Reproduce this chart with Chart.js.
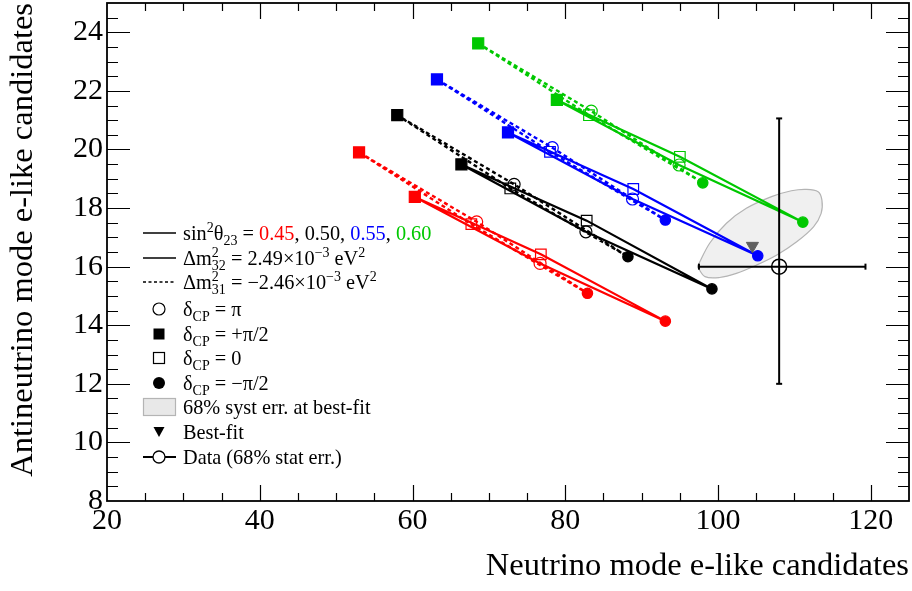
<!DOCTYPE html>
<html>
<head>
<meta charset="utf-8">
<script src="https://cdn.jsdelivr.net/npm/chart.js@4.4.0/dist/chart.umd.min.js"></script>
<style>
html, body { margin: 0; padding: 0; background: #fff; }
#wrap { position: relative; width: 912px; height: 591px; }
#chart { position: absolute; left: 0; top: 0; }
.leg { position: absolute; left: 183px; font-family: 'Liberation Serif', 'Times New Roman', serif; font-size: 20.3px; line-height: 24px; color: #000; white-space: nowrap; }
.sup { font-size: 14px; position: relative; top: -8px; }
.sub { font-size: 14px; position: relative; top: 5px; }
.red { color: #ff0000; } .blue { color: #0000ff; } .green { color: #00c800; }
</style>
</head>
<body>
<div id="wrap">
<canvas id="chart" width="912" height="591"></canvas>
<div class="leg" style="top:221px">sin<span class="sup">2</span>θ<span class="sub">23</span> = <span class="red">0.45</span>, 0.50, <span class="blue">0.55</span>, <span class="green">0.60</span></div>
<div class="leg" style="top:246px">Δm<span class="sup" style="margin-right:-7px">2</span><span class="sub">32</span> = 2.49×10<span class="sup">−3</span> eV<span class="sup">2</span></div>
<div class="leg" style="top:270px">Δm<span class="sup" style="margin-right:-7px">2</span><span class="sub">31</span> = −2.46×10<span class="sup">−3</span> eV<span class="sup">2</span></div>
<div class="leg" style="top:297px">δ<span class="sub">CP</span> = π</div>
<div class="leg" style="top:322px">δ<span class="sub">CP</span> = +π/2</div>
<div class="leg" style="top:346px">δ<span class="sub">CP</span> = 0</div>
<div class="leg" style="top:371px">δ<span class="sub">CP</span> = −π/2</div>
<div class="leg" style="top:395px">68% syst err. at best-fit</div>
<div class="leg" style="top:420px">Best-fit</div>
<div class="leg" style="top:445px">Data (68% stat err.)</div>
</div>
<script>
const FONT = "'Liberation Serif', 'Times New Roman', serif";

// axis ticks
const xTicks = [20, 40, 60, 80, 100, 120];
const yTicks = [8, 10, 12, 14, 16, 18, 20, 22, 24];
const xMinorStep = 5;
const yMinorStep = 0.5;

// sin^2(theta23) curves, points in order dCP = +pi/2, 0, -pi/2, pi
const sin2Labels = ['0.45', '0.50', '0.55', '0.60'];
const curveColors = ['#ff0000', '#000000', '#0000ff', '#00c800'];

// normal ordering (dm2_32 = 2.49e-3), solid
const nhNu = [
  [60.3, 76.8, 93.1, 76.7],
  [66.4, 82.8, 99.2, 82.7],
  [72.5, 88.9, 105.2, 88.8],
  [78.9, 95.0, 111.1, 94.9]
];
const nhAnu = [
  [18.38, 16.42, 14.14, 16.11],
  [19.49, 17.57, 15.24, 17.19],
  [20.58, 18.65, 16.37, 18.31],
  [21.69, 19.75, 17.52, 19.47]
];

// inverted ordering (dm2_31 = -2.46e-3), dashed
const ihNu = [
  [53.0, 67.7, 82.9, 68.4],
  [58.0, 72.8, 88.2, 73.3],
  [63.2, 78.0, 93.1, 78.3],
  [68.6, 83.1, 98.0, 83.4]
];
const ihAnu = [
  [19.90, 17.45, 15.09, 17.53],
  [21.17, 18.67, 16.34, 18.81],
  [22.39, 19.92, 17.59, 20.06],
  [23.62, 21.17, 18.86, 21.31]
];

// data with 68% stat errors
const dataNu = 108.0;
const dataAnu = 16.0;
const dataNuRange = [97.5, 119.3];
const dataAnuRange = [12.0, 21.06];

// best fit
const bestNu = 104.5;
const bestAnu = 16.71;

// 68% syst error contour around best-fit
const systNu = [97.3, 98.9, 101.1, 103.7, 107.0, 109.6, 111.5, 113.1, 113.6, 113.5, 112.5, 110.3, 107.7, 105.0, 102.4, 100.2, 98.3];
const systAnu = [16.00, 16.80, 17.48, 17.99, 18.39, 18.59, 18.64, 18.56, 18.27, 17.82, 17.36, 16.85, 16.40, 16.05, 15.77, 15.63, 15.66];

const clear = 'rgba(0,0,0,0)';

function curveSet(nu, anu, color, dashed, order) {
  const pts = [];
  for (let i = 0; i < 4; i++) pts.push({x: nu[i], y: anu[i]});
  pts.push({x: nu[0], y: anu[0]});
  return {
    data: pts,
    showLine: true,
    tension: 0,
    borderColor: color,
    borderWidth: dashed ? 2.4 : 2.2,
    borderDash: dashed ? [4, 3] : [],
    pointStyle: ['rect', 'rect', 'circle', 'circle', 'circle'],
    pointRadius: [7.8, 7.5, 5.2, 6, 0],
    pointBorderWidth: 1.2,
    pointBorderColor: color,
    pointBackgroundColor: [color, clear, color, clear, clear],
    order: order
  };
}

const datasets = [];

datasets.push({
  data: [{x: bestNu, y: bestAnu}],
  pointStyle: 'triangle', rotation: 180, pointRadius: 7,
  pointBackgroundColor: '#606060', pointBorderColor: '#606060',
  order: 1
});
datasets.push({
  data: [{x: dataNu, y: dataAnu}],
  pointStyle: 'circle', pointRadius: 7.5, pointBorderWidth: 1.5,
  pointBackgroundColor: clear, pointBorderColor: '#000',
  order: 0
});
datasets.push({
  data: [{x: dataNuRange[0], y: dataAnu}, {x: dataNuRange[1], y: dataAnu}],
  showLine: true, borderColor: '#000', borderWidth: 2,
  pointStyle: 'line', rotation: 90, pointRadius: 3, pointBorderWidth: 2, pointBorderColor: '#000',
  order: 0
});
datasets.push({
  data: [{x: dataNu, y: dataAnuRange[0]}, {x: dataNu, y: dataAnuRange[1]}],
  showLine: true, borderColor: '#000', borderWidth: 2,
  pointStyle: 'line', rotation: 0, pointRadius: 3, pointBorderWidth: 2, pointBorderColor: '#000',
  order: 0
});

for (let i = 0; i < 4; i++) {
  datasets.push(curveSet(nhNu[i], nhAnu[i], curveColors[i], false, 4));
  datasets.push(curveSet(ihNu[i], ihAnu[i], curveColors[i], true, 5));
}

const ell = systNu.map((v, i) => ({x: v, y: systAnu[i]}));
ell.push({x: systNu[0], y: systAnu[0]});
datasets.push({
  data: ell,
  showLine: true, tension: 0.35,
  borderColor: '#b4b4b4', borderWidth: 1.2,
  backgroundColor: '#f0f0f0', fill: 'shape',
  pointRadius: 0,
  order: 10
});

const frameTicks = {
  id: 'frameTicks',
  afterDatasetsDraw(chart) {
    const {ctx, chartArea: a, scales: {x, y}} = chart;
    ctx.save();
    ctx.strokeStyle = '#000';
    ctx.lineWidth = 1.2;
    ctx.beginPath();
    for (let v = x.min + xMinorStep; v < x.max; v += xMinorStep) {
      const px = Math.round(x.getPixelForValue(v)) + 0.5;
      const len = xTicks.includes(v) ? 16 : 8;
      ctx.moveTo(px, a.bottom); ctx.lineTo(px, a.bottom - len);
      ctx.moveTo(px, a.top); ctx.lineTo(px, a.top + len);
    }
    for (let v = y.min + yMinorStep; v < y.max; v += yMinorStep) {
      const py = Math.round(y.getPixelForValue(v)) + 0.5;
      const len = yTicks.includes(v) ? 23 : 11;
      ctx.moveTo(a.left, py); ctx.lineTo(a.left + len, py);
      ctx.moveTo(a.right, py); ctx.lineTo(a.right - len, py);
    }
    ctx.stroke();
    ctx.lineWidth = 1.8;
    ctx.strokeRect(a.left, a.top, a.right - a.left, a.bottom - a.top);
    ctx.restore();
  }
};

// legend symbols
const legendSymbols = {
  id: 'legendSymbols',
  afterDraw(chart) {
    const ctx = chart.ctx;
    const x0 = 143, x1 = 176, xc = 159;
    ctx.save();
    ctx.strokeStyle = '#000';
    ctx.fillStyle = '#000';
    ctx.lineWidth = 1.3;
    [233, 258].forEach(yy => {
      ctx.beginPath(); ctx.moveTo(x0, yy); ctx.lineTo(x1, yy); ctx.stroke();
    });
    ctx.setLineDash([3, 2.5]);
    ctx.beginPath(); ctx.moveTo(x0, 282); ctx.lineTo(x1, 282); ctx.stroke();
    ctx.setLineDash([]);
    ctx.lineWidth = 1.2;
    ctx.beginPath(); ctx.arc(xc, 309, 6, 0, 2 * Math.PI); ctx.stroke();
    ctx.fillRect(xc - 5.5, 334 - 5.5, 11, 11);
    ctx.strokeRect(xc - 5.5, 358 - 5.5, 11, 11);
    ctx.beginPath(); ctx.arc(xc, 383, 6, 0, 2 * Math.PI); ctx.fill();
    ctx.fillStyle = '#e8e8e8';
    ctx.strokeStyle = '#b4b4b4';
    ctx.fillRect(x0, 398, x1 - x0, 18);
    ctx.strokeRect(x0 + 0.5, 398.5, x1 - x0 - 1, 17);
    ctx.fillStyle = '#000';
    ctx.beginPath(); ctx.moveTo(xc - 5.5, 427); ctx.lineTo(xc + 5.5, 427); ctx.lineTo(xc, 437); ctx.closePath(); ctx.fill();
    ctx.strokeStyle = '#000';
    ctx.lineWidth = 2;
    ctx.beginPath(); ctx.moveTo(x0, 457); ctx.lineTo(xc - 6, 457); ctx.moveTo(xc + 6, 457); ctx.lineTo(x1, 457); ctx.stroke();
    ctx.lineWidth = 1.3;
    ctx.beginPath(); ctx.arc(xc, 457, 6, 0, 2 * Math.PI); ctx.stroke();
    ctx.restore();
  }
};

new Chart(document.getElementById('chart'), {
  type: 'scatter',
  data: {datasets: datasets},
  plugins: [frameTicks, legendSymbols],
  options: {
    responsive: false,
    animation: false,
    layout: {autoPadding: false, padding: {left: 0, right: 3, top: 3, bottom: 1}},
    plugins: {legend: {display: false}, tooltip: {enabled: false}},
    scales: {
      x: {
        type: 'linear', min: 20, max: 125,
        afterBuildTicks(s) { s.ticks = xTicks.map(v => ({value: v})); },
        afterFit(s) { s.height = 89; s.paddingLeft = 0; s.paddingRight = 0; },
        grid: {display: false, drawTicks: false},
        border: {display: false},
        ticks: {padding: 2, color: '#000', font: {family: FONT, size: 30}, maxRotation: 0, autoSkip: false},
        title: {display: true, text: 'Neutrino mode e-like candidates', align: 'end', color: '#000',
                font: {family: FONT, size: 32.5}, padding: {top: 0, bottom: 4}}
      },
      y: {
        type: 'linear', min: 8, max: 25,
        afterBuildTicks(s) { s.ticks = yTicks.map(v => ({value: v})); },
        afterFit(s) { s.width = 107; s.paddingTop = 0; s.paddingBottom = 0; },
        grid: {display: false, drawTicks: false},
        border: {display: false},
        ticks: {padding: 4, color: '#000', font: {family: FONT, size: 30}, autoSkip: false},
        title: {display: true, text: 'Antineutrino mode e-like candidates', align: 'end', color: '#000',
                font: {family: FONT, size: 32.5}, padding: {top: 4, bottom: 0}}
      }
    }
  }
});
</script>
</body>
</html>
